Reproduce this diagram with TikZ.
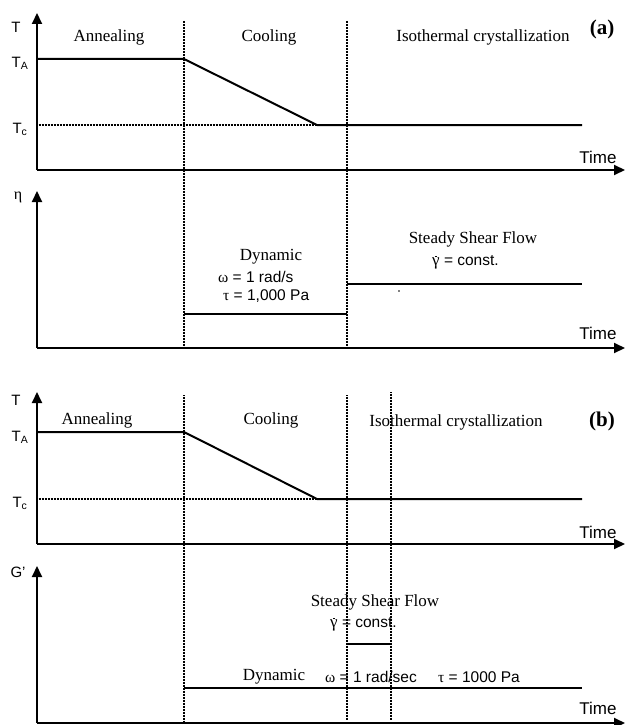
\documentclass[tikz,border=0pt]{standalone}
\usepackage{fontspec}
\setmainfont{Liberation Serif}
\setsansfont{Liberation Sans}
\usetikzlibrary{arrows.meta}
\newcommand{\gdot}{{\rmfamily\fontsize{17}{19}\selectfont\ooalign{γ\cr\hidewidth\raisebox{0.52em}{\rule{1.5pt}{1.5pt}}\hidewidth\cr}}}
\begin{document}
\begin{tikzpicture}[x=1pt,y=-1pt,
  axis/.style={line width=2pt,-{Triangle[length=11pt,width=10pt]}},
  curve/.style={line width=2pt},
  phase/.style={line width=1.7pt,dash pattern=on 1pt off 0.5pt},
  tcline/.style={line width=1.7pt,dash pattern=on 1pt off 0.5pt},
  serif/.style={font=\fontsize{17}{19}\selectfont\rmfamily,inner sep=0},
  sans/.style={font=\fontsize{15.5}{18}\selectfont\sffamily,inner sep=0},
  ylab/.style={font=\fontsize{15}{18}\selectfont\sffamily,inner sep=0},
  timelab/.style={font=\fontsize{17}{19}\selectfont\sffamily,inner sep=0},
  panel/.style={font=\fontsize{21}{24}\selectfont\rmfamily\bfseries,inner sep=0}]
\useasboundingbox (0,0) rectangle (626,725);

% ---------- coordinates ----------
\coordinate (ao) at (37,170);  \coordinate (atop) at (37,13);  \coordinate (aend) at (625,170);
\coordinate (eo) at (37,348);  \coordinate (etop) at (37,191); \coordinate (eend) at (625,348);
\coordinate (bo) at (37,544);  \coordinate (btop) at (37,392); \coordinate (bend) at (625,544);
\coordinate (go) at (37,723);  \coordinate (gtop) at (37,566); \coordinate (gend) at (625,723);

% phase boundaries
\coordinate (pa1t) at (184,21);  \coordinate (pa1b) at (184,348);
\coordinate (pa2t) at (347,21);  \coordinate (pa2b) at (347,348);
\coordinate (pb1t) at (184,395); \coordinate (pb1b) at (184,722);
\coordinate (pb2t) at (347,395); \coordinate (pb2b) at (347,720);
\coordinate (pb3t) at (391,392); \coordinate (pb3b) at (391,720);

% temperature profiles
\coordinate (aTA0) at (37,59);  \coordinate (aTA1) at (184,59);
\coordinate (aTc0) at (37,125); \coordinate (aTc1) at (317,125); \coordinate (aTc2) at (582,125);
\coordinate (bTA0) at (37,432);  \coordinate (bTA1) at (184,432);
\coordinate (bTc0) at (37,499); \coordinate (bTc1) at (317,499); \coordinate (bTc2) at (582,499);

% rheology steps
\coordinate (ed0) at (184,314); \coordinate (ed1) at (347,314);
\coordinate (es0) at (347,284); \coordinate (es1) at (582,284);
\coordinate (gd0) at (184,688); \coordinate (gd1) at (582,688);
\coordinate (gs0) at (347,644); \coordinate (gs1) at (391,644);

% ---------- lines ----------
\draw[phase] (pa1t) -- (pa1b);
\draw[phase] (pa2t) -- (pa2b);
\draw[phase] (pb1t) -- (pb1b);
\draw[phase] (pb2t) -- (pb2b);
\draw[phase] (pb3t) -- (pb3b);

\draw[tcline] (aTc0) -- (aTc1);
\draw[tcline] (bTc0) -- (bTc1);

\draw[curve] (aTA0) -- (aTA1) -- (aTc1) -- (aTc2);
\draw[curve] (bTA0) -- (bTA1) -- (bTc1) -- (bTc2);
\draw[curve] (ed0) -- (ed1);
\draw[curve] (es0) -- (es1);
\draw[curve] (gd0) -- (gd1);
\draw[curve] (gs0) -- (gs1);

\draw[axis] (ao) -- (atop);
\draw[axis] (ao) -- (aend);
\draw[axis] (eo) -- (etop);
\draw[axis] (eo) -- (eend);
\draw[axis] (bo) -- (btop);
\draw[axis] (bo) -- (bend);
\draw[axis] (go) -- (gtop);
\draw[axis] (go) -- (gend);

\fill (399,291) circle (0.8pt);

% ---------- labels panel (a) ----------
\node[ylab] (aT) at (16,27) {T};
\node[ylab] (aTA) at (20,63) {T\textsubscript{A}};
\node[ylab] (aTc) at (20,129) {T\textsubscript{c}};
\node[serif] (aAnn) at (109,37) {Annealing};
\node[serif] (aCool) at (269,37) {Cooling};
\node[serif] (aIso) at (483,37) {Isothermal crystallization};
\node[panel] (alab) at (602,29) {(a)};
\node[timelab] (aTime) at (598,157) {Time};

\node[font=\fontsize{16}{18}\selectfont\rmfamily,inner sep=0] (eta) at (18,197) {η};
\node[serif] (eDyn) at (271,257) {Dynamic};
\node[sans,anchor=west] (eOm) at (218,277) {{\rmfamily ω} = 1 rad/s};
\node[sans,anchor=west] (eTau) at (223,296) {{\rmfamily τ} = 1,000 Pa};
\node[serif] (eSSF) at (473,239) {Steady Shear Flow};
\node[sans,anchor=west] (eGam) at (432,261) {\gdot\ = const.};
\node[timelab] (eTime) at (598,333) {Time};

% ---------- labels panel (b) ----------
\node[ylab] (bT) at (16,400) {T};
\node[ylab] (bTA) at (20,437) {T\textsubscript{A}};
\node[ylab] (bTc) at (20,503) {T\textsubscript{c}};
\node[serif] (bAnn) at (97,420) {Annealing};
\node[serif] (bCool) at (271,420) {Cooling};
\node[serif] (bIso) at (456,422) {Isothermal crystallization};
\node[panel] (blab) at (602,421) {(b)};
\node[timelab] (bTime) at (598,532) {Time};

\node[ylab] (gG) at (18,572) {G'};
\node[serif] (gSSF) at (375,602) {Steady Shear Flow};
\node[sans,anchor=west] (gGam) at (330,623) {\gdot\ = const.};
\node[serif] (gDyn) at (274,677) {Dynamic};
\node[sans,anchor=west] (gOm) at (325,677) {{\rmfamily ω} = 1 rad/sec};
\node[sans,anchor=west] (gTau) at (438,677) {{\rmfamily τ} = 1000 Pa};
\node[timelab] (gTime) at (598,708) {Time};
\end{tikzpicture}
\end{document}
